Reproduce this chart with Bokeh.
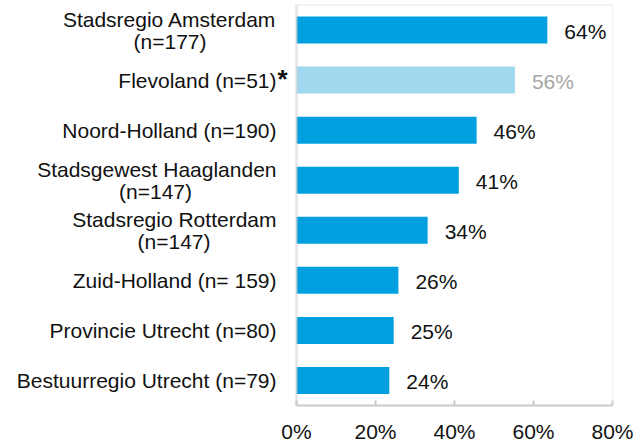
from bokeh.plotting import figure
from bokeh.models import (ColumnDataSource, LabelSet, Range1d, FixedTicker,
                          PrintfTickFormatter, BoxAnnotation)
from bokeh.core.properties import value
from bokeh.embed import file_html
from bokeh.resources import INLINE

# ---------------- data ----------------
categories = ["Stadsregio Amsterdam (n=177)", "Flevoland (n=51)", "Noord-Holland (n=190)",
              "Stadsgewest Haaglanden (n=147)", "Stadsregio Rotterdam (n=147)",
              "Zuid-Holland (n= 159)", "Provincie Utrecht (n=80)", "Bestuurregio Utrecht (n=79)"]
label_line1 = ["Stadsregio Amsterdam", "Flevoland (n=51)", "Noord-Holland (n=190)",
               "Stadsgewest Haaglanden", "Stadsregio Rotterdam",
               "Zuid-Holland (n= 159)", "Provincie Utrecht (n=80)", "Bestuurregio Utrecht (n=79)"]
label_line2 = ["(n=177)", "", "", "(n=147)", "(n=147)", "", "", ""]
values = [63.5, 55.3, 45.6, 41.1, 33.2, 25.8, 24.6, 23.5]
value_labels = ["64%", "56%", "46%", "41%", "34%", "26%", "25%", "24%"]
small_sample = [False, True, False, False, False, False, False, False]
x_ticks = [0, 20, 40, 60, 80]

# ---------------- style / layout ----------------
FONT = "Liberation Sans"
FS = "21px"
BAR = "#00A0E0"
BAR_LIGHT = "#A0D8F0"
TXT = "#111111"
TXT_LIGHT = "#A6A6A6"
AXIS_GREY = "#C8C8C8"
FRAME_GREY = "#D9D9D9"
W, H = 634, 445
LEFT_PX = 296               # pixel position of 0 %
PX_PER_UNIT = 3.95          # pixels per percent point
RIGHT_BORDER = 20
TOP_PAD = 0.09              # category rows of padding above the box
LABEL_RIGHT = 276           # right edge of category labels (px)
LINE2_CENTER = {0: 169.5, 3: 155, 4: 173.5}   # centres of 2nd label lines (px)
LINE_OFF = 11

n = len(categories)
ypos = [n - 1 - i for i in range(n)]   # top category on top

bar_src = ColumnDataSource(dict(
    y=ypos, val=values, lab=value_labels,
    color=[BAR_LIGHT if s else BAR for s in small_sample],
    tcolor=[TXT_LIGHT if s else TXT for s in small_sample],
))

x_start = -LEFT_PX / PX_PER_UNIT
x_end = x_ticks[-1] + 2 / PX_PER_UNIT
p = figure(width=W, height=H, output_backend="svg", toolbar_location=None,
           x_range=Range1d(x_start, x_end),
           y_range=Range1d(-0.5, n - 0.5 + TOP_PAD),
           min_border_left=0, min_border_right=RIGHT_BORDER,
           min_border_top=0, min_border_bottom=38)
p.outline_line_color = None
p.background_fill_color = "white"
p.border_fill_color = "white"
p.xgrid.visible = False
p.ygrid.visible = False
p.yaxis.visible = False

# chart box
p.add_layout(BoxAnnotation(left=x_ticks[0], right=x_ticks[-1], bottom=-0.5, top=n - 0.5,
                           fill_color=None, line_color=FRAME_GREY, line_width=2))
p.add_layout(BoxAnnotation(left=x_ticks[0], right=x_ticks[0], bottom=-0.5, top=n - 0.5,
                           fill_color=None, line_color=AXIS_GREY, line_width=3))

p.hbar(y="y", left=0, right="val", height=0.54, fill_color="color",
       line_color=None, source=bar_src)

# x axis
xa = p.xaxis[0]
xa.bounds = (x_ticks[0], x_ticks[-1])
xa.ticker = FixedTicker(ticks=x_ticks)
xa.formatter = PrintfTickFormatter(format="%d%%")
xa.axis_line_color = AXIS_GREY
xa.axis_line_width = 2
xa.major_tick_line_color = AXIS_GREY
xa.major_tick_line_width = 2
xa.major_tick_in = 5
xa.major_tick_out = 0
xa.minor_tick_line_color = None
xa.major_label_standoff = 14
xa.major_label_text_font = FONT
xa.major_label_text_font_size = FS
xa.major_label_text_color = TXT

# value labels
p.add_layout(LabelSet(x="val", y="y", text="lab", source=bar_src, x_offset=17, y_offset=-1,
                      text_baseline="middle", text_align="left",
                      text_font=value(FONT), text_font_size=value(FS), text_color="tcolor"))

# category labels (drawn per line)
lx, ly, lt, la, lo = [], [], [], [], []
for i in range(n):
    if label_line2[i]:
        lx += [LABEL_RIGHT, LINE2_CENTER[i]]
        ly += [ypos[i], ypos[i]]
        lt += [label_line1[i], label_line2[i]]
        la += ["right", "center"]
        lo += [LINE_OFF, -LINE_OFF]
    else:
        lx.append(LABEL_RIGHT); ly.append(ypos[i]); lt.append(label_line1[i])
        la.append("right"); lo.append(0)
cat_src = ColumnDataSource(dict(x=lx, y=ly, t=lt, a=la, o=lo))
p.add_layout(LabelSet(x="x", y="y", text="t", source=cat_src, x_units="screen",
                      y_offset="o", text_align="a", text_baseline="middle",
                      text_font=value(FONT), text_font_size=value(FS), text_color=TXT))

# asterisk for small sample
star_src = ColumnDataSource(dict(
    x=[LABEL_RIGHT + 1 for s in small_sample if s],
    y=[ypos[i] for i, s in enumerate(small_sample) if s],
    t=["*" for s in small_sample if s]))
p.add_layout(LabelSet(x="x", y="y", text="t", source=star_src, x_units="screen",
                      y_offset=1, text_align="left", text_baseline="middle",
                      text_font=value(FONT), text_font_size=value("26px"),
                      text_font_style="bold", text_color=TXT))

open("out.html", "w").write(file_html(p, INLINE))
